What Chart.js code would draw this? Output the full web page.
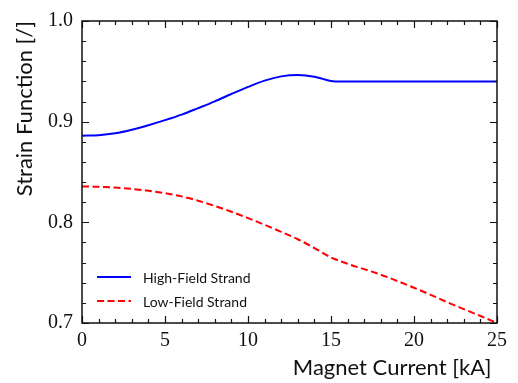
<!DOCTYPE html>
<html>
<head>
<meta charset="utf-8">
<script src="https://cdn.jsdelivr.net/npm/chart.js@4.4.1/dist/chart.umd.min.js"></script>
<style>
html,body{margin:0;padding:0;background:#fff;}
#wrap{width:518px;height:383px;}
</style>
</head>
<body>
<div id="wrap"><canvas id="c" width="518" height="383"></canvas></div>
<script>
const highFieldCurrent = [0, 1, 2, 3, 4, 5, 6, 7, 8, 9, 10, 11, 12, 13, 14, 14.5, 15, 15.5, 20, 25];
const highFieldStrain  = [0.886, 0.8866, 0.8885, 0.892, 0.8965, 0.9015, 0.907, 0.9135, 0.9202, 0.9275, 0.9345, 0.9408, 0.945, 0.9464, 0.9447, 0.9425, 0.9405, 0.9398, 0.9398, 0.9398];
const lowFieldCurrent = [0, 1, 2, 3, 4, 5, 6, 7, 8, 9, 10, 11, 12, 13, 14, 15, 16, 17, 18, 19, 20, 21, 22, 23, 24, 25];
const lowFieldStrain  = [0.8356, 0.8353, 0.8345, 0.8332, 0.8314, 0.829, 0.8258, 0.8215, 0.8163, 0.8105, 0.8042, 0.7975, 0.7905, 0.7832, 0.7745, 0.7652, 0.7588, 0.7535, 0.748, 0.7417, 0.735, 0.728, 0.7207, 0.7138, 0.707, 0.700];
const seriesLabels = ['High-Field Strand', 'Low-Field Strand'];
const xTicks = [0, 5, 10, 15, 20, 25];
const yTicks = [0.7, 0.8, 0.9, 1.0];
const xTitle = 'Magnet Current [kA]';
const yTitle = 'Strain Function [/]';

const toXY = (xs, ys) => xs.map((x, i) => ({x: x, y: ys[i]}));

const frameTicks = {
  id: 'frameTicks',
  afterDatasetsDraw(chart) {
    const {ctx, chartArea: a, scales: {x, y}} = chart;
    ctx.save();
    ctx.strokeStyle = '#111';
    ctx.lineWidth = 1.5;
    ctx.strokeRect(a.left, a.top, a.right - a.left, a.bottom - a.top);
    ctx.lineWidth = 1.2;
    ctx.beginPath();
    for (let v = 0; v <= 25; v += 1) {
      const px = Math.round(x.getPixelForValue(v)) + 0.5;
      const len = (v % 5 === 0) ? 7 : 4;
      ctx.moveTo(px, a.bottom); ctx.lineTo(px, a.bottom - len);
      ctx.moveTo(px, a.top); ctx.lineTo(px, a.top + len);
    }
    for (let k = 0; k <= 15; k++) {
      const v = 0.7 + k * 0.02;
      const py = Math.round(y.getPixelForValue(v)) + 0.5;
      const len = (k % 5 === 0) ? 7 : 4;
      ctx.moveTo(a.left, py); ctx.lineTo(a.left + len, py);
      ctx.moveTo(a.right, py); ctx.lineTo(a.right - len, py);
    }
    ctx.stroke();
    ctx.restore();
  }
};

const insideLegend = {
  id: 'insideLegend',
  afterDatasetsDraw(chart) {
    const {ctx, chartArea: a} = chart;
    ctx.save();
    ctx.font = '14px Lato';
    ctx.textBaseline = 'middle';
    ctx.textAlign = 'left';
    chart.data.datasets.forEach((ds, i) => {
      const yy = a.bottom - 46 + i * 24;
      const x0 = a.left + 15;
      ctx.strokeStyle = ds.borderColor;
      ctx.lineWidth = ds.borderWidth;
      ctx.setLineDash(ds.borderDash || []);
      ctx.beginPath();
      ctx.moveTo(x0, yy); ctx.lineTo(x0 + 34, yy);
      ctx.stroke();
      ctx.setLineDash([]);
      ctx.fillStyle = '#111';
      ctx.fillText(ds.label, x0 + 46, yy + 1);
    });
    ctx.restore();
  }
};

new Chart(document.getElementById('c'), {
  type: 'line',
  data: {
    datasets: [
      {label: seriesLabels[0], data: toXY(highFieldCurrent, highFieldStrain), borderColor: '#0000ff', borderWidth: 2, pointRadius: 0, fill: false, cubicInterpolationMode: 'monotone'},
      {label: seriesLabels[1], data: toXY(lowFieldCurrent, lowFieldStrain), borderColor: '#ff0000', borderWidth: 2, borderDash: [7, 3.5], pointRadius: 0, fill: false, cubicInterpolationMode: 'monotone'}
    ]
  },
  options: {
    responsive: false,
    animation: false,
    layout: {padding: {top: 13, right: 21, left: 0, bottom: 0}},
    plugins: {legend: {display: false}, tooltip: {enabled: false}},
    scales: {
      x: {
        type: 'linear', min: 0, max: 25,
        afterBuildTicks: (s) => { s.ticks = xTicks.map(v => ({value: v})); },
        afterFit: (s) => { s.height = 60; },
        grid: {display: false, drawTicks: false},
        border: {display: false},
        ticks: {padding: 6, color: '#111', font: {family: 'Liberation Serif', size: 20}, maxRotation: 0, callback: (v) => String(v)},
        title: {display: true, text: xTitle + ' ', align: 'end', color: '#111', font: {family: 'Lato', size: 22}, padding: {top: 0, bottom: 2}}
      },
      y: {
        type: 'linear', min: 0.7, max: 1.0,
        afterBuildTicks: (s) => { s.ticks = yTicks.map(v => ({value: v})); },
        afterFit: (s) => { s.width = 82; },
        grid: {display: false, drawTicks: false},
        border: {display: false},
        ticks: {padding: 9, color: '#111', font: {family: 'Liberation Serif', size: 20}, callback: (v) => Number(v).toFixed(1)},
        title: {display: true, text: yTitle, align: 'end', color: '#111', font: {family: 'Lato', size: 22}, padding: {top: 12, bottom: 0}}
      }
    }
  },
  plugins: [frameTicks, insideLegend]
});
</script>
</body>
</html>
